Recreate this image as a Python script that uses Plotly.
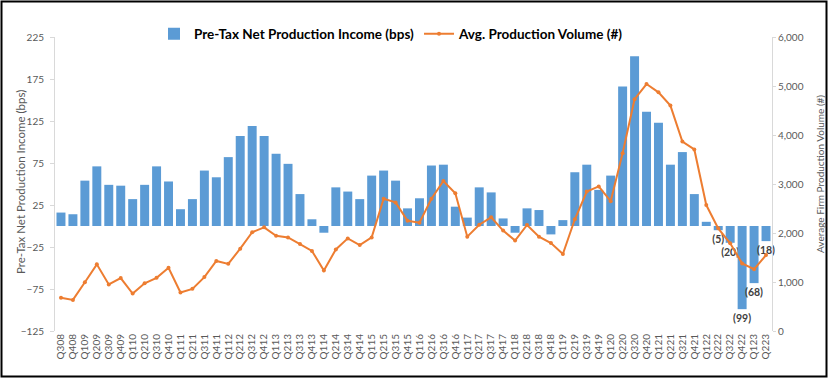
import plotly.graph_objects as go

quarters = ["Q308", "Q408",
            "Q109", "Q209", "Q309", "Q409",
            "Q110", "Q210", "Q310", "Q410",
            "Q111", "Q211", "Q311", "Q411",
            "Q112", "Q212", "Q312", "Q412",
            "Q113", "Q213", "Q313", "Q413",
            "Q114", "Q214", "Q314", "Q414",
            "Q115", "Q215", "Q315", "Q415",
            "Q116", "Q216", "Q316", "Q416",
            "Q117", "Q217", "Q317", "Q417",
            "Q118", "Q218", "Q318", "Q418",
            "Q119", "Q219", "Q319", "Q419",
            "Q120", "Q220", "Q320", "Q420",
            "Q121", "Q221", "Q321", "Q421",
            "Q122", "Q222", "Q322", "Q422",
            "Q123", "Q223"]

income_bps = [16, 14,
              54, 71, 49, 48,
              32, 49, 71, 53,
              20, 32, 66, 58,
              82, 107, 119, 107,
              86, 74, 38, 8,
              -8, 46, 41, 32,
              60, 66, 54, 21,
              33, 72, 73, 23,
              10, 46, 40, 9,
              -8, 21, 19, -10,
              7, 64, 73, 43,
              60, 166, 202, 136,
              123, 73, 88, 38,
              5, -5, -20, -99,
              -68, -18]

volume = [680, 635,
          995, 1360, 950, 1080,
          765, 975, 1085, 1290,
          785, 860, 1100, 1430,
          1370, 1680, 2015, 2115,
          1945, 1910, 1775, 1635,
          1235, 1665, 1890, 1755,
          1910, 2700, 2625, 2250,
          2210, 2700, 3060, 2810,
          1925, 2170, 2320, 2050,
          1845, 2165, 1925, 1795,
          1570, 2280, 2845, 2950,
          2650, 3630, 4730, 5040,
          4870, 4600, 3865, 3705,
          2570, 2095, 1790, 1380,
          1260, 1550]

labelled_quarters = ["Q222", "Q322", "Q422", "Q123", "Q223"]

left_ticks = [-125, -75, -25, 25, 75, 125, 175, 225]
right_ticks = [0, 1000, 2000, 3000, 4000, 5000, 6000]

left_title = "Pre-Tax Net Production Income (bps)"
right_title = "Average Firm Production Volume (#)"

bar_text = [f"({abs(v)})" if q in labelled_quarters else ""
            for q, v in zip(quarters, income_bps)]

BLUE = "#5B9BD5"
ORANGE = "#ED7D31"
GRAY = "#595959"
FONT = "Lato, Carlito, Calibri, sans-serif"

W, H = 828, 378
ML, MR, MT, MB = 55, 56, 37, 47
PW, PH = W - ML - MR, H - MT - MB


def px_x(p):
    return (p - ML) / PW


def px_y(p):
    return (H - MB - p) / PH


fig = go.Figure()
fig.add_trace(go.Bar(
    x=quarters, y=income_bps, name="Pre-Tax Net Production Income (bps)",
    marker=dict(color=BLUE, line=dict(width=0)),
    text=bar_text, textposition="outside", cliponaxis=False, constraintext="none",
    textfont=dict(family=FONT, size=10.5, color="#404040", weight="bold"),
    yaxis="y",
))
fig.add_trace(go.Scatter(
    x=quarters, y=volume, name="Avg. Production Volume (#)",
    mode="lines+markers",
    line=dict(color=ORANGE, width=2),
    marker=dict(color=ORANGE, size=4),
    yaxis="y2",
))

fig.update_layout(
    width=W, height=H, autosize=False,
    margin=dict(l=ML, r=MR, t=MT, b=MB, autoexpand=False),
    paper_bgcolor="white", plot_bgcolor="white",
    font=dict(family=FONT, color=GRAY),
    bargap=0.25,
    showlegend=True,
    legend=dict(orientation="h", x=px_x(154), xanchor="left",
                y=px_y(34), yanchor="middle",
                font=dict(family=FONT, size=13.5, color="#000000", weight="bold"),
                bgcolor="rgba(0,0,0,0)", itemwidth=30, tracegroupgap=0),
    xaxis=dict(type="category", tickangle=-90, showgrid=False, showline=False,
               range=[-0.5, len(quarters) - 0.5],
               tickmode="array", tickvals=quarters, ticktext=quarters,
               ticks="", tickfont=dict(family=FONT, size=10, color=GRAY), zeroline=False,
               automargin=False),
    yaxis=dict(range=[-125, 225], tickvals=left_ticks, showgrid=False, zeroline=False,
               showline=True, linecolor="#D9D9D9", linewidth=1, ticks="outside",
               tickcolor="#D9D9D9", ticklen=4, automargin=False, ticklabelstandoff=4,
               tickfont=dict(family=FONT, size=10, color=GRAY)),
    yaxis2=dict(range=[0, 6000], tickvals=right_ticks, tickformat=",", overlaying="y",
                side="right", showgrid=False, zeroline=False, automargin=False,
                showline=True, linecolor="#D9D9D9", linewidth=1, ticks="outside",
                tickcolor="#D9D9D9", ticklen=3,
                tickfont=dict(family=FONT, size=10, color=GRAY)),
)

fig.add_annotation(text=left_title, xref="paper", yref="paper",
                   x=px_x(20), y=px_y(182), xanchor="center", yanchor="middle",
                   textangle=-90, showarrow=False,
                   font=dict(family=FONT, size=11.5, color=GRAY))
fig.add_annotation(text=right_title, xref="paper", yref="paper",
                   x=px_x(820), y=px_y(174), xanchor="center", yanchor="middle",
                   textangle=-90, showarrow=False,
                   font=dict(family=FONT, size=10, color=GRAY))

fig.add_shape(type="rect", xref="paper", yref="paper",
              x0=px_x(1.5), x1=px_x(826.5),
              y0=px_y(376.5), y1=px_y(1.5),
              line=dict(color="#000000", width=2), fillcolor="rgba(0,0,0,0)",
              layer="above")

fig.write_html("out.html", config={"displayModeBar": False},
               post_script="document.body.style.margin='0';document.body.style.padding='0';")
